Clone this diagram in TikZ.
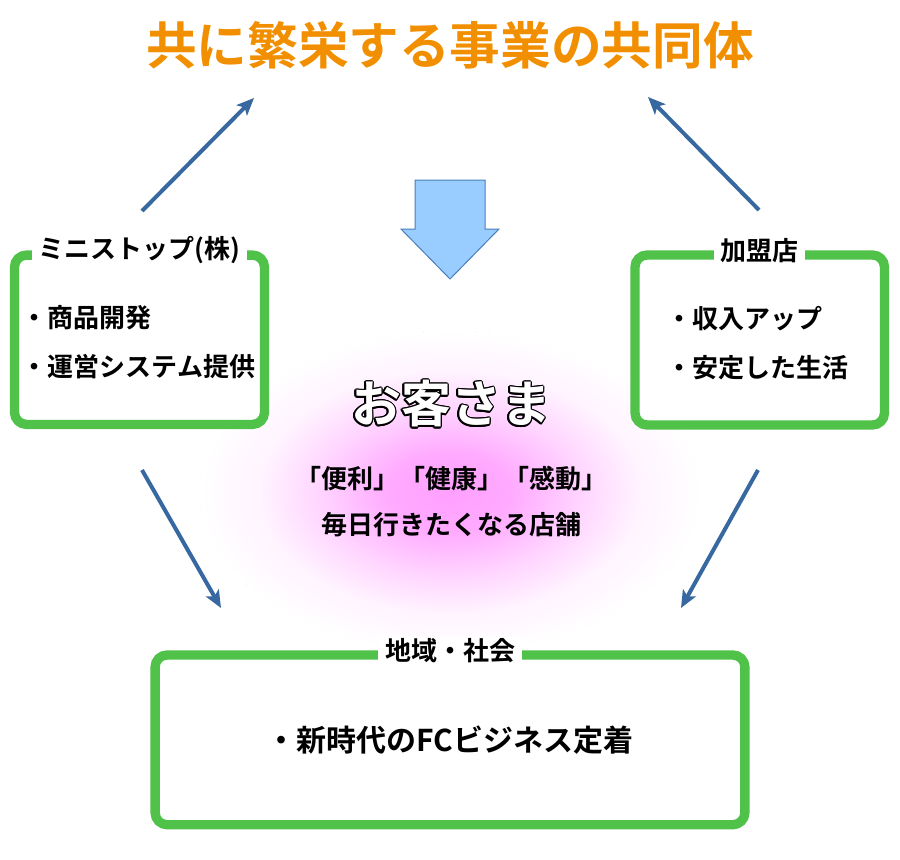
\documentclass[tikz,border=0pt]{standalone}
\usepackage{fontspec}
\setmainfont{Noto Sans CJK JP}[BoldFont={Noto Sans CJK JP Bold}]
\usetikzlibrary{positioning,arrows.meta,calc}
\definecolor{headorange}{RGB}{241,143,0}
\definecolor{panelgreen}{RGB}{80,194,74}
\definecolor{flowblue}{RGB}{55,104,160}
\definecolor{downfill}{RGB}{153,204,255}
\definecolor{downedge}{RGB}{74,126,187}
\definecolor{glowpink}{RGB}{255,160,255}
\pgfdeclareradialshading{glowshade}{\pgfpoint{0bp}{0bp}}{color(0bp)=(glowpink); color(6bp)=(glowpink!90!white); color(13bp)=(glowpink!45!white); color(19bp)=(glowpink!12!white); color(25bp)=(white); color(50bp)=(white)}
\tikzset{panel/.style={draw=panelgreen,line width=7pt,rounded corners=9pt,fill=white,inner sep=0pt}}
\tikzset{tag/.style={fill=white,inner xsep=5pt,inner ysep=1pt,font=\bfseries\fontsize{19.5pt}{23pt}\selectfont}}
\tikzset{items/.style={align=left,inner sep=0pt,font=\bfseries\fontsize{19.5pt}{37pt}\selectfont}}
\tikzset{flow/.style={draw=flowblue,line width=3pt,-{Stealth[length=13pt,width=11pt,inset=3pt]}}}
\tikzset{guesttext/.style={inner sep=0pt,font=\bfseries\fontsize{37.5pt}{44pt}\selectfont}}

\begin{document}
\begin{tikzpicture}[x=0.75pt,y=-0.75pt]
\useasboundingbox (0,0) rectangle (900,860);
% glow behind the customer
\fill[shading=glowshade] (450,492) ellipse [x radius=187.5pt, y radius=120pt];
\draw[white,line width=0.9pt] (450,492) ellipse [x radius=187.5pt, y radius=120pt];

\node[inner sep=0pt,text=headorange,font=\bfseries\fontsize{38pt}{44pt}\selectfont] (headline) at (450,45) {共に繁栄する事業の共同体};

\node[panel,minimum width=187.5pt,minimum height=127pt] (maker) at (139.5,339.75) {};
\node[tag] at (maker.north) {ミニストップ(株)};
\node[items] at ($(maker.center)+(-1,2.5)$) {・商品開発\\・運営システム提供};

\node[panel,minimum width=187.1pt,minimum height=127.5pt] (shop) at (759.75,340) {};
\node[tag] at (shop.north) {加盟店};
\node[items] at ($(shop.center)+(-2,3)$) {・収入アップ\\・安定した生活};

\node[panel,minimum width=442.3pt,minimum height=127.3pt] (region) at (450,739.85) {};
\node[tag] at (region.north) {地域・社会};
\node[inner sep=0pt,font=\bfseries\fontsize{22.5pt}{26pt}\selectfont] (fc) at (region.center) {・新時代のFCビジネス定着};

% block arrow down
\draw[fill=downfill,draw=downedge,line width=0.75pt] (415,180) -- (485,180) -- (485,229) -- (499,229) -- (450,279) -- (401,229) -- (415,229) -- cycle;

% customer
\coordinate (guestpos) at (451,404);
\foreach \a in {0,22.5,...,337.5}
  \node[guesttext,text=black] at ($(guestpos)+(\a:0.9pt)$) {お客さま};
\node[guesttext,text=white] (guest) at (guestpos) {お客さま};
\node[align=center,inner sep=0pt,font=\bfseries\fontsize{19.5pt}{35pt}\selectfont] (motto) at (451,501.5) {「便利」「健康」「感動」\\毎日行きたくなる店舗};

% flows
\coordinate (makerout) at (142,211);
\coordinate (makerin) at (142,470);
\coordinate (shopout) at (759,210);
\coordinate (shopin) at (758,470);
\coordinate (topleft) at (254,98);
\coordinate (topright) at (648,97);
\coordinate (lowleft) at (221,608);
\coordinate (lowright) at (681,608);
\draw[flow] (makerout) -- (topleft);
\draw[flow] (shopout) -- (topright);
\draw[flow] (makerin) -- (lowleft);
\draw[flow] (shopin) -- (lowright);
\end{tikzpicture}
\end{document}
